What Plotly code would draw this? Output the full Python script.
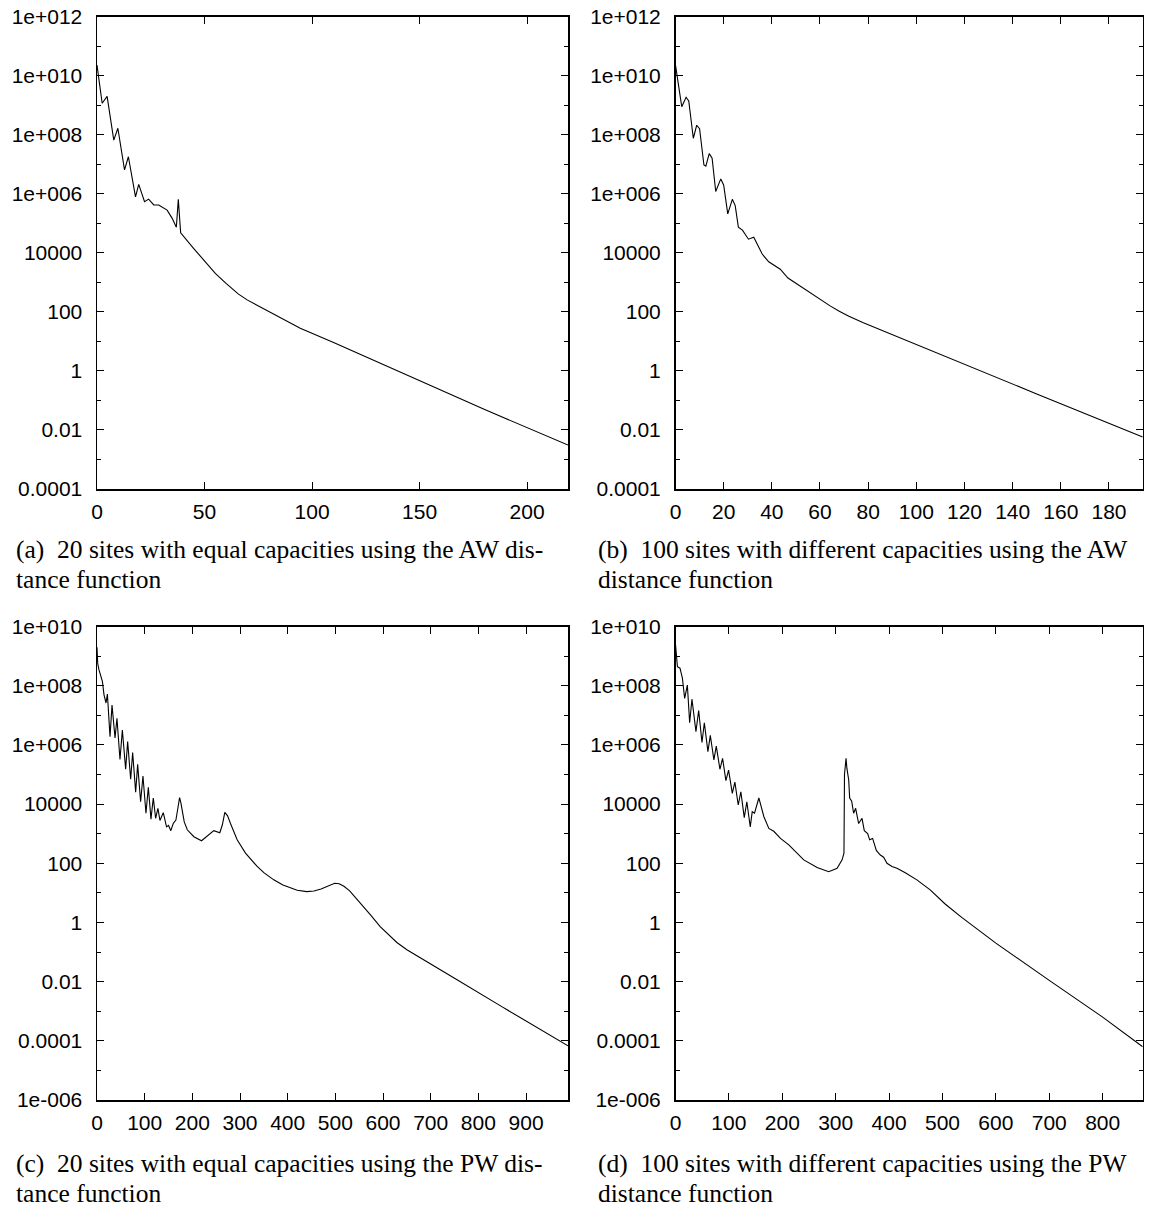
import plotly.graph_objects as go

W, H = 1153, 1207

# ---------------- data ----------------
a_x = [0, 2.4, 4.7, 7.8, 9.7, 12.8, 14.6, 17.9, 19.4, 22.1, 24.0, 26.4, 28.7, 32.6, 34.9,
       36.9, 37.8, 38.9, 45, 51.2, 55, 60, 65.8, 70, 75, 80, 87, 94.5, 110, 150, 180, 219]
a_y = [2.3e10, 1.17e9, 2.0e9, 6.6e7, 1.66e8, 6.5e6, 1.8e7, 7.9e5, 2.1e6, 5.4e5, 6.6e5, 4.2e5,
       4.2e5, 2.8e5, 1.5e5, 7.4e4, 6.5e5, 4.8e4, 1.4e4, 4.2e3, 2.0e3, 930, 400, 250, 158,
       105, 56, 28, 9.1, 0.47, 0.05, 0.0031]

b_x = [0, 2.6, 4.4, 5.5, 7.4, 8.8, 10.0, 11.8, 12.6, 14.0, 15.2, 16.7, 18.8, 20.0, 21.7, 23.6,
       24.8, 26.1, 27.8, 30.3, 32.5, 34.0, 36.0, 38.7, 41.5, 43.5, 46.7, 51.5, 55.9, 60, 64.2,
       68, 72, 78, 85, 100, 120, 150, 194]
b_y = [2.3e10, 8.9e8, 1.86e9, 1.4e9, 7.6e7, 2.1e8, 1.6e8, 9.5e6, 8.7e6, 2.3e7, 1.6e7, 1.2e6,
       3.2e6, 2.0e6, 2.1e5, 6.5e5, 4.0e5, 7.4e4, 5.9e4, 2.9e4, 3.4e4, 2.0e4, 9.1e3, 5.0e3,
       3.6e3, 2.8e3, 1.4e3, 760, 430, 260, 160, 105, 71, 43, 25, 7.8, 1.66, 0.166, 0.0058]

c_x = [0, 1.5, 4.2, 8, 11.3, 14.7, 18.9, 21.8, 27.3, 31.5, 37.8, 41.9, 48.2, 53.2, 60.1, 64.3,
       70.6, 74.8, 81.1, 85.3, 91.5, 96.4, 102.7, 107.7, 113.2, 118.1, 123, 127.8, 132, 139,
       145.9, 150, 154.9, 159.9, 165.5, 169, 173.2, 176, 178.9, 183, 189.4, 203.2, 219.3,
       231.2, 245, 257.6, 263, 268.1, 274, 280, 294, 311.5, 320, 336, 350, 370.8, 390, 405.7,
       420, 440, 455, 470, 485, 498.6, 508, 518, 530, 545, 560, 573.7, 594, 610, 629, 650,
       685, 750, 850, 988]
c_y = [2.0e9, 5.6e8, 3.4e8, 2.0e8, 1.4e8, 4.9e7, 2.6e7, 5.2e7, 1.9e6, 2.2e7, 1.7e6, 7.9e6,
       3.2e5, 3.2e6, 1.5e5, 1.3e6, 6.9e4, 5.5e5, 2.5e4, 2.2e5, 1.2e4, 8.9e4, 4.9e3, 3.7e4,
       3.1e3, 1.6e4, 3.3e3, 7.2e3, 2.8e3, 5.1e3, 1.7e3, 1.9e3, 1.26e3, 2.2e3, 2.9e3, 6.3e3,
       1.66e4, 1.1e4, 5.5e3, 2.5e3, 1.35e3, 790, 575, 850, 1.26e3, 1.07e3, 2.0e3, 5.2e3,
       4.0e3, 2.2e3, 620, 220, 150, 78, 48, 27.5, 18.5, 14.5, 12.3, 11, 11.5, 13.5, 17.4,
       21, 20.4, 16.6, 11.7, 6.3, 3.3, 1.8, 0.72, 0.4, 0.21, 0.12, 0.054, 0.013, 0.0014,
       6.8e-5]

d_x = [0, 1.7, 3.6, 8.4, 12.9, 17.2, 22.2, 26.5, 30.8, 38.3, 43.4, 49.6, 54, 60.7, 65.2, 71.9,
       76.4, 83.2, 88.2, 94.4, 99.4, 106.4, 111.2, 117.5, 122.4, 128.8, 133.6, 140, 143.7, 148,
       156.1, 160, 165.4, 174.8, 184.1, 196.6, 212.2, 240.2, 265.2, 287, 302.7, 312, 315.5,
       316.5, 319.4, 321, 324.4, 326.2, 330, 333.6, 337.4, 343, 349.3, 353.6, 359.9, 363.6,
       369.2, 376.1, 383.6, 389.8, 396.1, 405.4, 414.8, 430.3, 452.1, 477, 505, 536, 600, 700,
       800, 875]
d_y = [2.5e9, 9.5e8, 4.4e8, 3.9e8, 1.8e8, 3.7e7, 1.05e8, 5.6e6, 3.5e7, 2.8e6, 1.45e7, 1.2e6,
       5.6e6, 5.9e5, 2.1e6, 3.1e5, 9.1e5, 1.5e5, 3.5e5, 6.2e4, 1.4e5, 2.3e4, 5.5e4, 9.3e3,
       2.6e4, 3.5e3, 1.2e4, 1.7e3, 5.5e3, 4.9e3, 1.6e4, 8.9e3, 3.8e3, 1.5e3, 1.2e3, 690, 420,
       130, 72, 52, 68, 130, 220, 1.0e5, 3.5e5, 1.6e5, 6.5e4, 1.6e4, 1.26e4, 4.9e3, 7.2e3,
       2.2e3, 3.3e3, 1.26e3, 1.0e3, 620, 690, 270, 190, 160, 100, 78, 68, 48, 27.5, 12.6,
       4.2, 1.48, 0.2, 0.011, 6.3e-4, 6.3e-5]

x_ranges = {"a": [0, 219], "b": [0, 194], "c": [0, 988], "d": [0, 875]}
x_dticks = {"a": 50, "b": 20, "c": 100, "d": 100}

top_tickvals = [1e-4, 1e-2, 1, 1e2, 1e4, 1e6, 1e8, 1e10, 1e12]
top_ticktext = ["0.0001", "0.01", "1", "100", "10000", "1e+006", "1e+008", "1e+010", "1e+012"]
top_minor = [1e-3, 1e-1, 1e1, 1e3, 1e5, 1e7, 1e9, 1e11]
bot_tickvals = [1e-6, 1e-4, 1e-2, 1, 1e2, 1e4, 1e6, 1e8, 1e10]
bot_ticktext = ["1e-006", "0.0001", "0.01", "1", "100", "10000", "1e+006", "1e+008", "1e+010"]
bot_minor = [1e-5, 1e-3, 1e-1, 1e1, 1e3, 1e5, 1e7, 1e9]

captions = {
    "a": ["(a)  20 sites with equal capacities using the AW dis-", "tance function"],
    "b": ["(b)  100 sites with different capacities using the AW", "distance function"],
    "c": ["(c)  20 sites with equal capacities using the PW dis-", "tance function"],
    "d": ["(d)  100 sites with different capacities using the PW", "distance function"],
}

# ---------------- layout geometry (screen pixels) ----------------
col_x = {"L": (97, 568), "R": (675.5, 1142.7)}
row_y = {"T": (16.7, 489), "B": (626.5, 1100)}
panels = [("a", "L", "T", a_x, a_y, [-4, 12], top_tickvals, top_ticktext, top_minor),
          ("b", "R", "T", b_x, b_y, [-4, 12], top_tickvals, top_ticktext, top_minor),
          ("c", "L", "B", c_x, c_y, [-6, 10], bot_tickvals, bot_ticktext, bot_minor),
          ("d", "R", "B", d_x, d_y, [-6, 10], bot_tickvals, bot_ticktext, bot_minor)]
cap_pos = {"a": (14, 549, 579), "b": (596, 549, 579),
           "c": (14, 1163, 1193), "d": (596, 1163, 1193)}


def px(x):
    return x / W


def py(y):
    return 1 - y / H


tickfont = dict(family="Liberation Sans, Arial, sans-serif", size=21, color="black")
capfont = dict(family="Liberation Serif, Times New Roman, serif", size=25.5, color="black")

fig = go.Figure()
layout = dict(width=W, height=H, margin=dict(l=0, r=0, t=0, b=0, pad=0),
              paper_bgcolor="white", plot_bgcolor="white", showlegend=False,
              annotations=[])

for i, (key, col, row, xs, ys, yr, tv, tt, tm) in enumerate(panels, start=1):
    sfx = "" if i == 1 else str(i)
    x0, x1 = col_x[col]
    y0, y1 = row_y[row]
    fig.add_trace(go.Scatter(x=xs, y=ys, mode="lines",
                             line=dict(color="black", width=1.1),
                             xaxis="x" + sfx, yaxis="y" + sfx, hoverinfo="skip"))
    layout["xaxis" + sfx] = dict(
        domain=[px(x0), px(x1)], anchor="y" + sfx, range=x_ranges[key],
        tick0=0, dtick=x_dticks[key], ticks="inside", ticklen=7, tickwidth=1,
        tickcolor="black", showline=True, linecolor="black", linewidth=1.5,
        mirror="allticks", showgrid=False, zeroline=False, tickfont=tickfont,
        ticklabelstandoff=3, automargin=False)
    layout["yaxis" + sfx] = dict(
        domain=[py(y1), py(y0)], anchor="x" + sfx, type="log", range=yr,
        tickmode="array", tickvals=tv, ticktext=tt, ticks="inside", ticklen=7,
        tickwidth=1, tickcolor="black", showline=True, linecolor="black",
        linewidth=1.5, mirror="allticks", showgrid=False, zeroline=False,
        tickfont=tickfont, ticklabelstandoff=9, automargin=False,
        minor=dict(tickmode="array", tickvals=tm, ticks="inside", ticklen=4,
                   tickwidth=1, tickcolor="black", showgrid=False))
    cx, cy1, cy2 = cap_pos[key]
    for line, cy in zip(captions[key], (cy1, cy2)):
        layout["annotations"].append(dict(
            text=line, x=px(cx), y=py(cy), xref="paper", yref="paper",
            xanchor="left", yanchor="middle", showarrow=False, font=capfont))

fig.update_layout(**layout)
# remove the default page margin so the figure fills the window exactly
fig.write_html("out.html",
               config={"displayModeBar": False, "staticPlot": True},
               post_script="document.body.style.margin='0px';"
                           "document.body.style.overflow='hidden';")
